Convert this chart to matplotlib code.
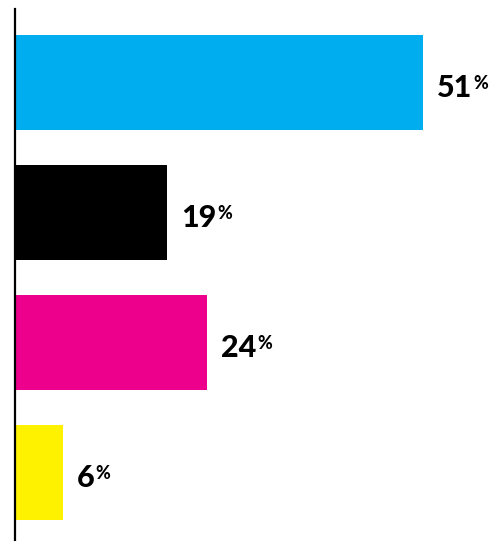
import matplotlib.pyplot as plt

values = [51, 19, 24, 6]
colors = ["#00AEEF", "#000000", "#EC008C", "#FFF200"]
labels = [str(v) for v in values]

fig = plt.figure(figsize=(4.98, 5.41), dpi=100)
ax = fig.add_axes([0, 0, 1, 1])

pos = range(len(values))
ax.barh(pos, values, height=0.73, color=colors)

ax.set_xlim(-1.875, 60.375)
ax.set_ylim(3.527, -0.635)

for s in ["top", "right", "bottom"]:
    ax.spines[s].set_visible(False)
ax.spines["left"].set_position(("data", 0))
ax.spines["left"].set_linewidth(1.6)
ax.spines["left"].set_bounds(-0.565, 3.527)
ax.set_xticks([])
ax.set_yticks([])

fig.canvas.draw()
r = fig.canvas.get_renderer()
for i, (v, lab) in enumerate(zip(values, labels)):
    t = ax.annotate(lab, (v, i), xytext=(10, -2), textcoords="offset points",
                    ha="left", va="center_baseline", fontsize=22, fontweight="black",
                    family="Lato")
    bb = t.get_window_extent(r)
    # small raised percent sign, top lined up with the digits
    ax.annotate("%", (bb.x1 + 1, bb.y1 - 1), xycoords="figure pixels",
                ha="left", va="top", fontsize=13, fontweight="black",
                family="Lato")

fig.savefig("out.png", dpi=100)
